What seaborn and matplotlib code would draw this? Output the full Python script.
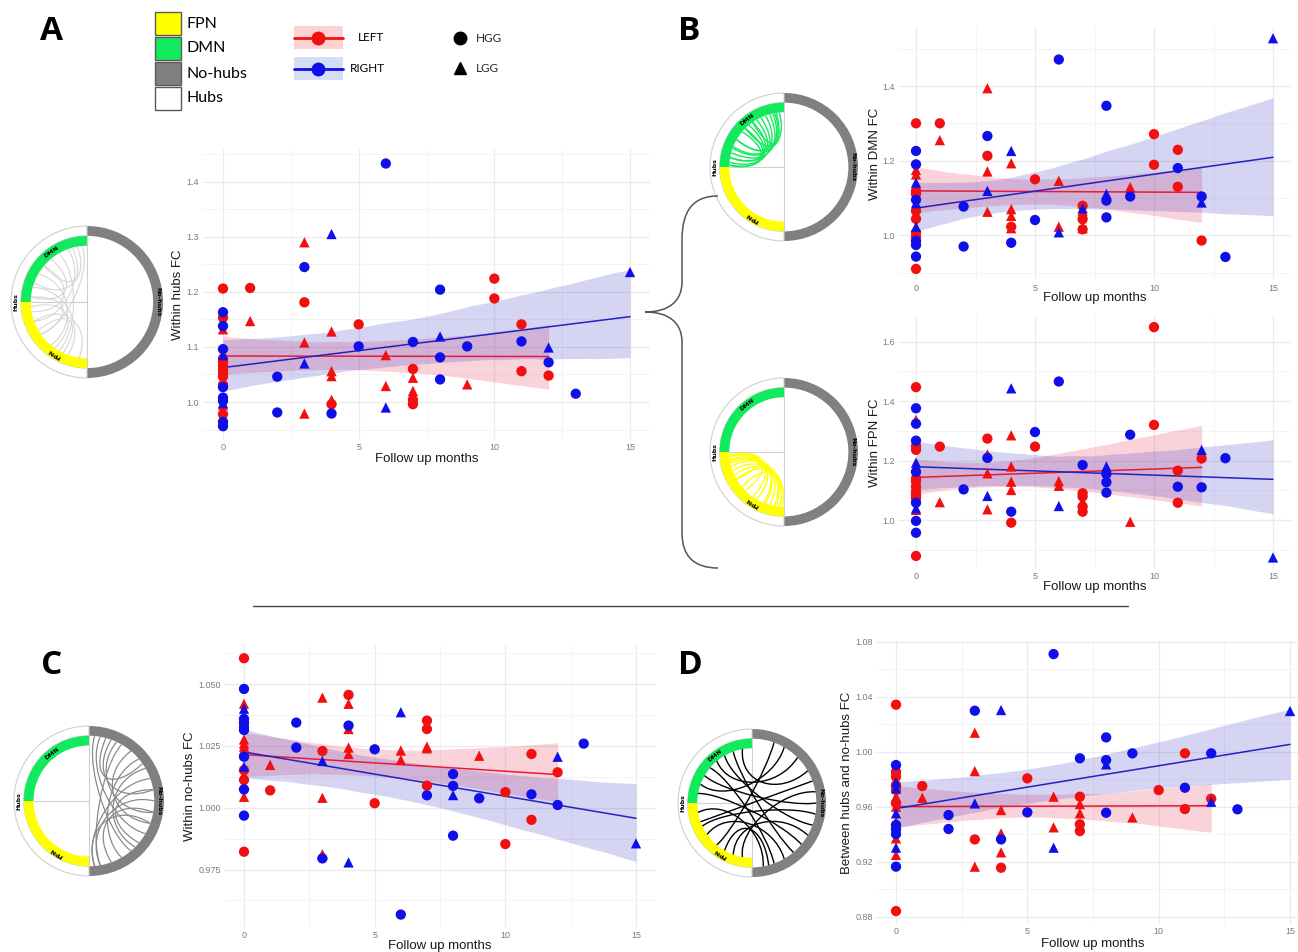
import numpy as np
import pandas as pd
import matplotlib
matplotlib.use("Agg")
import matplotlib.pyplot as plt
import seaborn as sns
from matplotlib.patches import Wedge, Rectangle, PathPatch
from matplotlib.path import Path

W, H = 1298, 952
sns.set_theme(style="white")
plt.rcParams['font.family'] = ['Liberation Sans', 'DejaVu Sans']

# ---------------- DATA ----------------
# Panel A: Within hubs FC
A_LH_m = [0, 0, 0, 0, 0, 0, 0, 0, 0, 0, 1, 3, 4, 5, 7, 7, 7, 10, 10, 11, 11, 12]
A_LH_v = [1.206, 1.153, 1.079, 1.073, 1.065, 1.058, 1.052, 1.046, 1.031, 0.978, 1.207, 1.181, 0.996, 1.141,
          1.060, 1.004, 0.996, 1.224, 1.188, 1.141, 1.056, 1.048]
A_LL_m = [0, 0, 1, 3, 3, 3, 4, 4, 4, 4, 6, 6, 7, 7, 9]
A_LL_v = [1.132, 0.995, 1.147, 1.290, 1.108, 0.979, 1.128, 1.056, 1.047, 1.004, 1.085, 1.029, 1.044, 1.020, 1.032]
A_RH_m = [0, 0, 0, 0, 0, 0, 0, 0, 2, 2, 3, 4, 5, 6, 7, 8, 8, 8, 9, 11, 12, 13]
A_RH_v = [1.163, 1.138, 1.096, 1.027, 1.008, 1.002, 0.964, 0.956, 1.046, 0.981, 1.245, 0.979, 1.101, 1.433,
          1.109, 1.204, 1.081, 1.041, 1.101, 1.110, 1.072, 1.015]
A_RL_m = [0, 0, 3, 4, 6, 8, 12, 15]
A_RL_v = [1.085, 0.998, 1.070, 1.305, 0.990, 1.119, 1.099, 1.236]

# Panel B (top): Within DMN FC
D_LH_m = [0, 0, 0, 0, 0, 0, 0, 0, 1, 3, 4, 5, 7, 7, 7, 10, 10, 11, 11, 12]
D_LH_v = [1.300, 1.119, 1.111, 1.065, 1.044, 1.007, 0.996, 0.910, 1.300, 1.213, 1.023, 1.150, 1.079, 1.043,
          1.016, 1.271, 1.189, 1.229, 1.130, 0.986]
D_LL_m = [0, 0, 1, 3, 3, 3, 4, 4, 4, 4, 6, 6, 7, 7, 9]
D_LL_v = [1.175, 1.163, 1.255, 1.394, 1.171, 1.063, 1.193, 1.070, 1.052, 1.019, 1.146, 1.023, 1.065, 1.019, 1.129]
D_RH_m = [0, 0, 0, 0, 0, 0, 2, 2, 3, 4, 5, 6, 8, 8, 8, 9, 11, 12, 13]
D_RH_v = [1.226, 1.190, 1.095, 0.985, 0.974, 0.943, 1.077, 0.970, 1.266, 0.980, 1.041, 1.471, 1.347, 1.093,
          1.048, 1.104, 1.180, 1.104, 0.942]
D_RL_m = [0, 0, 0, 3, 4, 6, 7, 8, 12, 15]
D_RL_v = [1.141, 1.086, 1.023, 1.119, 1.226, 1.008, 1.072, 1.111, 1.088, 1.528]

# Panel B (bottom): Within FPN FC
F_LH_m = [0, 0, 0, 0, 0, 0, 0, 0, 0, 0, 1, 3, 4, 5, 7, 7, 7, 7, 10, 10, 11, 11, 12]
F_LH_v = [1.447, 1.249, 1.236, 1.140, 1.129, 1.112, 1.096, 1.084, 1.073, 0.879, 1.247, 1.274, 0.991, 1.247,
          1.090, 1.079, 1.045, 1.028, 1.649, 1.320, 1.166, 1.058, 1.207]
F_LL_m = [0, 0, 0, 1, 3, 3, 3, 4, 4, 4, 4, 6, 6, 7, 9]
F_LL_v = [1.337, 1.180, 1.034, 1.060, 1.221, 1.157, 1.036, 1.285, 1.180, 1.129, 1.101, 1.131, 1.115, 1.062, 0.994]
F_RH_m = [0, 0, 0, 0, 0, 0, 0, 2, 3, 4, 5, 6, 7, 8, 8, 8, 9, 11, 12, 13]
F_RH_v = [1.376, 1.324, 1.267, 1.162, 1.058, 0.997, 0.957, 1.103, 1.209, 1.028, 1.296, 1.466, 1.185, 1.155,
          1.127, 1.092, 1.287, 1.112, 1.110, 1.208]
F_RL_m = [0, 0, 3, 4, 6, 8, 12, 15]
F_RL_v = [1.193, 1.039, 1.081, 1.443, 1.047, 1.180, 1.236, 0.874]

# Panel C: Within no-hubs FC
C_LH_m = [0, 0, 0, 0, 1, 3, 4, 5, 7, 7, 7, 10, 10, 11, 11, 12]
C_LH_v = [1.0604, 1.0152, 1.0112, 0.9822, 1.0070, 1.0229, 1.0456, 1.0018, 1.0352, 1.0318, 1.0089, 1.0063,
          0.9853, 1.0217, 0.9951, 1.0143]
C_LL_m = [0, 0, 0, 0, 0, 0, 0, 0, 1, 3, 3, 3, 4, 4, 4, 4, 6, 6, 7, 7, 9]
C_LL_v = [1.0420, 1.0276, 1.0260, 1.0247, 1.0233, 1.0132, 1.0092, 1.0044, 1.0173, 1.0445, 1.0040, 0.9812,
          1.0420, 1.0318, 1.0243, 1.0217, 1.0231, 1.0193, 1.0247, 1.0240, 1.0210]
C_RH_m = [0, 0, 0, 0, 0, 0, 0, 0, 2, 2, 3, 4, 5, 6, 7, 8, 8, 8, 9, 11, 12, 13]
C_RH_v = [1.0480, 1.0359, 1.0344, 1.0327, 1.0314, 1.0206, 1.0074, 0.9968, 1.0344, 1.0243, 0.9795, 1.0332,
          1.0236, 0.9568, 1.0050, 1.0136, 1.0088, 0.9887, 1.0038, 1.0054, 1.0011, 1.0259]
C_RL_m = [0, 0, 3, 4, 6, 8, 12, 15]
C_RL_v = [1.0400, 1.0166, 1.0189, 0.9779, 1.0386, 1.0051, 1.0206, 0.9856]

# Panel D: Between hubs and no-hubs FC
B_LH_m = [0, 0, 0, 0, 0, 0, 0, 1, 3, 4, 5, 7, 7, 7, 10, 11, 11, 12]
B_LH_v = [1.0342, 0.9855, 0.9818, 0.9758, 0.9722, 0.9625, 0.8841, 0.9750, 0.9362, 0.9156, 0.9806, 0.9673,
          0.9472, 0.9423, 0.9721, 0.9988, 0.9583, 0.9658]
B_LL_m = [0, 0, 0, 0, 0, 0, 1, 3, 3, 3, 4, 4, 4, 6, 6, 7, 7, 9]
B_LL_v = [0.9872, 0.9673, 0.9600, 0.9491, 0.9370, 0.9249, 0.9665, 1.0138, 0.9859, 0.9164, 0.9576, 0.9406,
          0.9268, 0.9673, 0.9450, 0.9619, 0.9552, 0.9522]
B_RH_m = [0, 0, 0, 0, 0, 2, 2, 3, 4, 5, 6, 7, 8, 8, 8, 9, 11, 12, 13]
B_RH_v = [0.9903, 0.9467, 0.9436, 0.9401, 0.9164, 0.9539, 0.9438, 1.0298, 0.9362, 0.9559, 1.0710, 0.9952,
          1.0104, 0.9939, 0.9556, 0.9988, 0.9738, 0.9988, 0.9581]
B_RL_m = [0, 0, 0, 0, 3, 4, 6, 8, 12, 15]
B_RL_v = [0.9777, 0.9733, 0.9552, 0.9302, 0.9624, 1.0303, 0.9302, 0.9908, 0.9636, 1.0296]

# chord endpoints (degrees) for the circle diagrams
CH_HUBS = [(100, 160), (110, 200), (120, 240), (130, 175), (150, 230), (165, 250), (175, 215),
           (200, 262), (210, 245), (105, 140), (140, 190), (185, 235), (95, 215)]
CH_DMN = [(95, 150), (100, 170), (105, 135), (110, 178), (120, 160), (125, 175), (130, 170),
          (140, 178), (98, 125), (115, 150), (135, 165), (102, 158)]
CH_FPN = [(185, 250), (190, 265), (195, 240), (200, 260), (185, 225), (210, 255), (188, 235),
          (205, 268), (220, 262), (192, 248), (183, 210)]
CH_NOH = [(80, -30), (60, -80), (40, -60), (70, 10), (20, -85), (50, -20), (-10, -70), (30, -45),
          (85, -50), (0, -80), (65, -10), (10, -40), (-20, -85), (75, 35)]
CH_BTW = [(100, 30), (120, -20), (140, -70), (160, 60), (170, -40), (200, 20), (215, -60), (230, 70),
          (250, -30), (260, 10), (190, -80), (110, -50), (150, 0), (240, -75), (130, 45), (205, -10)]

RED, BLUE = "#F20F0F", "#0F0FEA"
RED_LINE, BLUE_LINE = "#E8193C", "#2222C0"
GREEN, YELLOW, GREY = "#12EA5E", "#FFFF00", "#808080"


def make_df(groups):
    rows = []
    for months, vals, side, grade in groups:
        for m, v in zip(months, vals):
            rows.append((m, v, side, grade))
    return pd.DataFrame(rows, columns=["month", "fc", "side", "grade"])


fig = plt.figure(figsize=(W / 100, H / 100), dpi=100)


def panel(df, xcal, ycal, ymaj, ymin, fmt, ylabel, ylab_x, xlab_dy):
    lo, hi = df.fc.min(), df.fc.max()
    pad = 0.05 * (hi - lo)
    ylim = (lo - pad, hi + pad)
    xlim = (-0.75, 15.75)
    (m0, p0), (m1, p1) = xcal
    sx = (p1 - p0) / (m1 - m0)
    left = p0 + (xlim[0] - m0) * sx
    right = p0 + (xlim[1] - m0) * sx
    (v0, q0), (v1, q1) = ycal
    sy = (q1 - q0) / (v1 - v0)
    top = q0 + (ylim[1] - v0) * sy
    bottom = q0 + (ylim[0] - v0) * sy
    ax = fig.add_axes([left / W, 1 - bottom / H, (right - left) / W, (bottom - top) / H])
    for side, col, lcol in [("LEFT", RED, RED_LINE), ("RIGHT", BLUE, BLUE_LINE)]:
        sub = df[df.side == side]
        n0 = len(ax.collections)
        sns.regplot(data=sub, x="month", y="fc", scatter=False, ci=95, n_boot=2000, seed=3,
                    color=col, line_kws=dict(color=lcol, lw=1.1), ax=ax, truncate=True)
        for c in ax.collections[n0:]:
            c.set_alpha(0.19)
            c.set_linewidth(0)
    sns.scatterplot(data=df, x="month", y="fc", hue="side", style="grade",
                    palette={"LEFT": RED, "RIGHT": BLUE}, markers={"HGG": "o", "LGG": "^"},
                    s=55, linewidth=0, legend=False, ax=ax, zorder=3)
    ax.set_xlim(xlim)
    ax.set_ylim(ylim)
    ax.set_xticks([0, 5, 10, 15])
    ax.set_xticks([2.5, 7.5, 12.5], minor=True)
    ax.set_xticklabels(["0", "5", "10", "15"])
    ax.set_yticks(ymaj)
    ax.set_yticks(ymin, minor=True)
    ax.set_yticklabels([fmt.format(v) for v in ymaj])
    ax.grid(which="major", color="#EBEBEB", lw=0.9)
    ax.grid(which="minor", color="#F2F2F2", lw=0.6)
    ax.set_axisbelow(True)
    ax.tick_params(which="both", length=0, labelsize=6.5, labelcolor="#7A7A7A", pad=2.5)
    for s in ax.spines.values():
        s.set_visible(False)
    ax.set_facecolor("none")
    ax.set_xlabel("Follow up months", fontsize=9.5, color="#1A1A1A")
    ax.set_ylabel(ylabel, fontsize=9.5, color="#1A1A1A")
    ax.xaxis.set_label_coords(0.5, -xlab_dy / (bottom - top))
    ax.xaxis.label.set_va("center")
    ax.yaxis.set_label_coords((ylab_x - left) / (right - left), 0.5)
    ax.yaxis.label.set_va("center")
    return ax


dfA = make_df([(A_LH_m, A_LH_v, "LEFT", "HGG"), (A_LL_m, A_LL_v, "LEFT", "LGG"),
               (A_RH_m, A_RH_v, "RIGHT", "HGG"), (A_RL_m, A_RL_v, "RIGHT", "LGG")])
dfD = make_df([(D_LH_m, D_LH_v, "LEFT", "HGG"), (D_LL_m, D_LL_v, "LEFT", "LGG"),
               (D_RH_m, D_RH_v, "RIGHT", "HGG"), (D_RL_m, D_RL_v, "RIGHT", "LGG")])
dfF = make_df([(F_LH_m, F_LH_v, "LEFT", "HGG"), (F_LL_m, F_LL_v, "LEFT", "LGG"),
               (F_RH_m, F_RH_v, "RIGHT", "HGG"), (F_RL_m, F_RL_v, "RIGHT", "LGG")])
dfC = make_df([(C_LH_m, C_LH_v, "LEFT", "HGG"), (C_LL_m, C_LL_v, "LEFT", "LGG"),
               (C_RH_m, C_RH_v, "RIGHT", "HGG"), (C_RL_m, C_RL_v, "RIGHT", "LGG")])
dfB = make_df([(B_LH_m, B_LH_v, "LEFT", "HGG"), (B_LL_m, B_LL_v, "LEFT", "LGG"),
               (B_RH_m, B_RH_v, "RIGHT", "HGG"), (B_RL_m, B_RL_v, "RIGHT", "LGG")])

panel(dfA, ((0, 223), (15, 630)), ((1.0, 402), (1.4, 181.7)),
      [1.0, 1.1, 1.2, 1.3, 1.4], [0.95, 1.05, 1.15, 1.25, 1.35, 1.45], "{:.1f}",
      "Within hubs FC", 178, 20)
panel(dfD, ((0, 916), (15, 1273)), ((1.0, 235.3), (1.4, 86)),
      [1.0, 1.2, 1.4], [0.9, 1.1, 1.3, 1.5], "{:.1f}", "Within DMN FC", 875, 18)
panel(dfF, ((0, 916), (15, 1273)), ((1.0, 520), (1.6, 341.7)),
      [1.0, 1.2, 1.4, 1.6], [0.9, 1.1, 1.3, 1.5], "{:.1f}", "Within FPN FC", 875, 18)
panel(dfC, ((0, 244), (15, 636)), ((1.0, 807.7), (1.05, 684)),
      [0.975, 1.0, 1.025, 1.05], [0.9625, 0.9875, 1.0125, 1.0375, 1.0625], "{:.3f}",
      "Within no-hubs FC", 190, 19)
panel(dfB, ((0, 896), (15, 1290)), ((0.96, 806.7), (1.0, 751.7)),
      [0.88, 0.92, 0.96, 1.0, 1.04, 1.08], [0.90, 0.94, 0.98, 1.02, 1.06], "{:.2f}",
      "Between hubs and no-hubs FC", 847, 20)

# ---------------- overlay in pixel coordinates ----------------
ov = fig.add_axes([0, 0, 1, 1], zorder=10)
ov.set_xlim(0, W)
ov.set_ylim(H, 0)
ov.axis("off")
ov.patch.set_alpha(0)


def pt(cx, cy, r, ang):
    a = np.deg2rad(ang)
    return np.array([cx + r * np.cos(a), cy - r * np.sin(a)])


def vwedge(cx, cy, r, a1, a2, width, **kw):
    # visual angles a1..a2 (counterclockwise) on a y-inverted axis
    return Wedge((cx, cy), r, -a2, -a1, width=width, **kw)


def chord_circle(cx, cy, R, chords, ccol, clw, dmn_ang, fpn_ang):
    band = 0.13 * R
    ov.add_patch(vwedge(cx, cy, R, -90, 90, band, facecolor=GREY, edgecolor="none"))
    ov.add_patch(vwedge(cx, cy, R, 90, 270, band, facecolor="white", edgecolor="#CFCFCF", lw=0.8))
    ov.add_patch(vwedge(cx, cy, R - band, 90, 180, band, facecolor=GREEN, edgecolor="none"))
    ov.add_patch(vwedge(cx, cy, R - band, 180, 270, band, facecolor=YELLOW, edgecolor="none"))
    rin_l = R - 2 * band
    rin_r = R - band
    ov.plot([cx, cx], [cy - R + band, cy + R - band], color="#CFCFCF", lw=0.8, zorder=1)
    ov.plot([cx - rin_l, cx], [cy, cy], color="#CFCFCF", lw=0.8, zorder=1)
    c = np.array([cx, cy])
    for a1, a2 in chords:
        r1 = rin_l if 90 < a1 % 360 < 270 else rin_r
        r2 = rin_l if 90 < a2 % 360 < 270 else rin_r
        p1, p2 = pt(cx, cy, r1, a1), pt(cx, cy, r2, a2)
        m = (p1 + p2) / 2
        q = c + 0.3 * (m - c)
        c1 = q + (p1 - p2) * 0.3
        c2 = q + (p2 - p1) * 0.3
        path = Path([p1, c1, c2, p2], [Path.MOVETO, Path.CURVE4, Path.CURVE4, Path.CURVE4])
        ov.add_patch(PathPatch(path, facecolor="none", edgecolor=ccol, lw=clw, zorder=2))
    tk = dict(fontsize=4.5, fontweight="bold", ha="center", va="center", color="black",
              family=["DejaVu Sans"])
    p = pt(cx, cy, R - band / 2, 180)
    ov.text(p[0], p[1], "Hubs", rotation=90, **tk)
    p = pt(cx, cy, R - band / 2, 0)
    ov.text(p[0], p[1], "No-hubs", rotation=-90, **tk)
    p = pt(cx, cy, R - 1.5 * band, dmn_ang)
    ov.text(p[0], p[1], "DMN", rotation=dmn_ang - 90, **tk)
    p = pt(cx, cy, R - 1.5 * band, fpn_ang)
    ov.text(p[0], p[1], "FPN", rotation=fpn_ang - 90, **tk)


chord_circle(87, 302, 76, CH_HUBS, "#D6D6D6", 0.8, 125, 238)
chord_circle(784, 167, 74, CH_DMN, GREEN, 1.0, 128, 238)
chord_circle(784, 452, 74, CH_FPN, YELLOW, 1.0, 128, 238)
chord_circle(89, 801, 75, CH_NOH, "#8A8A8A", 0.9, 128, 238)
chord_circle(752, 803, 74, CH_BTW, "black", 1.0, 128, 238)

# bracket for panel B
verts = [(718, 196), (692, 196), (682, 212), (682, 240),
         (682, 282),
         (682, 302), (668, 312), (645, 312),
         (668, 312), (682, 322), (682, 342),
         (682, 533),
         (682, 556), (694, 568), (718, 568)]
codes = [Path.MOVETO, Path.CURVE4, Path.CURVE4, Path.CURVE4,
         Path.LINETO,
         Path.CURVE4, Path.CURVE4, Path.CURVE4,
         Path.CURVE4, Path.CURVE4, Path.CURVE4,
         Path.LINETO,
         Path.CURVE4, Path.CURVE4, Path.CURVE4]
ov.add_patch(PathPatch(Path(verts, codes), facecolor="none", edgecolor="#555555", lw=1.1))

# separator
ov.plot([253, 1128], [606, 606], color="#444444", lw=1.0)

# panel letters
for lbl, x, y in [("A", 52, 32), ("B", 689, 32), ("C", 52, 665), ("D", 690, 665)]:
    ov.text(x, y, lbl, fontsize=24, fontweight="bold", ha="center", va="center",
            family=["Open Sans", "DejaVu Sans"], color="black")

# legend: networks
LEG_NET = ["FPN", "DMN", "No-hubs", "Hubs"]
LEG_COL = [YELLOW, GREEN, GREY, "white"]
for i, (name, col) in enumerate(zip(LEG_NET, LEG_COL)):
    y0 = 12 + i * 25
    ov.add_patch(Rectangle((155, y0), 26, 23, facecolor=col, edgecolor="#5A5A5A", lw=1.0))
    ov.text(186, y0 + 11.5, name, fontsize=11.5, ha="left", va="center",
            family=["Lato", "DejaVu Sans"], color="black")

# legend: sides
for y0, fill, col, name, tx in [(26, "#FCD2D2", RED, "LEFT", 358), (57, "#D4DEF4", BLUE, "RIGHT", 350)]:
    ov.add_patch(Rectangle((294, y0), 49, 23, facecolor=fill, edgecolor="none"))
    ov.plot([294, 343], [y0 + 11.5, y0 + 11.5], color=col, lw=2)
    ov.plot([318], [y0 + 11.5], marker="o", markersize=9, color=col)
    ov.text(tx, y0 + 11.5, name, fontsize=8.5, ha="left", va="center",
            family=["Lato", "DejaVu Sans"], color="black")

# legend: grade
ov.plot([460], [38], marker="o", markersize=9, color="black")
ov.plot([460], [68], marker="^", markersize=9, color="black")
ov.text(476, 38, "HGG", fontsize=8.5, ha="left", va="center", family=["Lato", "DejaVu Sans"])
ov.text(476, 68, "LGG", fontsize=8.5, ha="left", va="center", family=["Lato", "DejaVu Sans"])

fig.savefig("out.png", dpi=100, facecolor="white")
